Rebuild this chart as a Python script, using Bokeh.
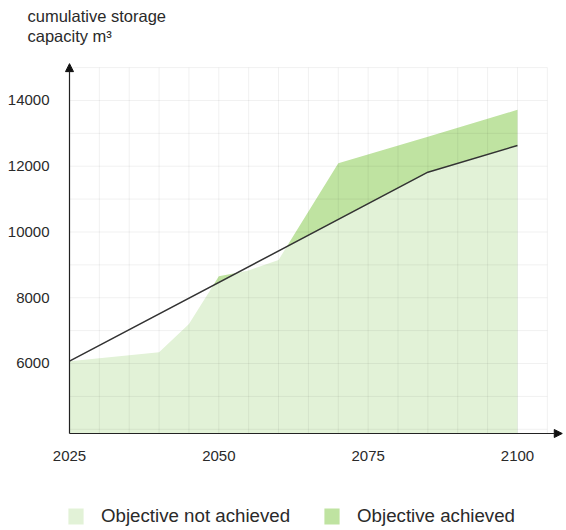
import numpy as np
from bokeh.plotting import figure
from bokeh.models import (Range1d, Arrow, NormalHead, Label, Legend, LegendItem, ColumnDataSource)
from bokeh.embed import file_html
from bokeh.resources import INLINE

# ---- data ----
ACTUAL_YEARS = [2025, 2030, 2035, 2040, 2045, 2050, 2055, 2060, 2070, 2085, 2100]
ACTUAL_CAPACITY = [6070, 6160, 6250, 6340, 7200, 8650, 8830, 9150, 12090, 12900, 13716]
TARGET_YEARS = [2025, 2085, 2100]
TARGET_CAPACITY = [6070, 11818, 12630]
X_TICKS = [2025, 2050, 2075, 2100]
Y_TICKS = [6000, 8000, 10000, 12000, 14000]
LEGEND_LABELS = ["Objective not achieved", "Objective achieved"]
TITLE_LINES = ["cumulative storage", "capacity m³"]

# ---- style / layout ----
LIGHT = "#e2f2d7"
DARK = "#bfe3a1"
TEXT = "#2a2a2a"
FONT = "Liberation Sans"
W, H = 566, 530

# axes origin and plot extents (data units)
X0, XGRID_END, XARROW_END = 2025, 2105, 2107.5
Y0, YGRID_END, YARROW_END = 3871, 15000, 15120
# pixel mapping: origin at (69, 433) px, 5.973 px/year, 0.03288 px/unit
PX0, PY0, SX, SY = 69, 433, 5.973, 0.03288
x_range = Range1d(X0 - PX0 / SX, X0 + (W - PX0) / SX)
y_range = Range1d(Y0 - (H - PY0) / SY, Y0 + PY0 / SY)


def merge(xa, ya, xt, yt):
    xs = sorted(set(xa) | set(xt))
    a = np.interp(xs, xa, ya)
    t = np.interp(xs, xt, yt)
    ox, oa, ot = [], [], []
    for i in range(len(xs)):
        if i > 0:
            d0 = a[i - 1] - t[i - 1]
            d1 = a[i] - t[i]
            if d0 * d1 < 0:
                f = d0 / (d0 - d1)
                xc = xs[i - 1] + f * (xs[i] - xs[i - 1])
                yc = a[i - 1] + f * (a[i] - a[i - 1])
                ox.append(xc); oa.append(yc); ot.append(yc)
        ox.append(xs[i]); oa.append(a[i]); ot.append(t[i])
    return np.array(ox), np.array(oa), np.array(ot)


mx, ma, mt = merge(ACTUAL_YEARS, ACTUAL_CAPACITY, TARGET_YEARS, TARGET_CAPACITY)
src = ColumnDataSource(dict(
    x=mx,
    base=np.full(len(mx), Y0),
    low=np.minimum(ma, mt),
    target=mt,
    high=np.maximum(ma, mt),
))

p = figure(width=W, height=H, output_backend="svg", toolbar_location=None,
           x_range=x_range, y_range=y_range,
           min_border=0, x_axis_type=None, y_axis_type=None)
p.outline_line_color = None
p.background_fill_color = "white"
p.border_fill_color = "white"
p.xgrid.visible = False
p.ygrid.visible = False

light = p.varea(x="x", y1="base", y2="low", source=src, fill_color=LIGHT, level="image")
dark = p.varea(x="x", y1="target", y2="high", source=src, fill_color=DARK, level="image")

# grid lines (every 5 years / every 1000)
gx = np.arange(X0 + 5, XGRID_END + 1, 5)
gy = np.arange(4000, YGRID_END + 1, 1000)
p.segment(x0=gx, y0=np.full(len(gx), Y0), x1=gx, y1=np.full(len(gx), YGRID_END),
          line_color="#000000", line_alpha=0.06, line_width=1, level="underlay")
p.segment(x0=np.full(len(gy), X0), y0=gy, x1=np.full(len(gy), XGRID_END), y1=gy,
          line_color="#000000", line_alpha=0.06, line_width=1, level="underlay")

p.line(TARGET_YEARS, TARGET_CAPACITY, line_color="#333333", line_width=1.5)

# tick labels
p.text(x=np.full(len(Y_TICKS), X0), y=Y_TICKS, text=[f"{v}" for v in Y_TICKS],
       x_offset=-20, text_align="right", text_baseline="middle",
       text_font={"value": FONT}, text_font_size="15px", text_color=TEXT)
p.text(x=X_TICKS, y=np.full(len(X_TICKS), Y0), text=[f"{v}" for v in X_TICKS],
       y_offset=22, text_align="center", text_baseline="middle",
       text_font={"value": FONT}, text_font_size="15px", text_color=TEXT)

# axis arrows
head = dict(size=8, fill_color="#111111", line_color="#111111")
p.add_layout(Arrow(x_start=X0, y_start=Y0, x_end=XARROW_END, y_end=Y0,
                   line_color="#222222", line_width=1.2, end=NormalHead(**head)))
p.add_layout(Arrow(x_start=X0, y_start=Y0, x_end=X0, y_end=YARROW_END,
                   line_color="#222222", line_width=1.2, end=NormalHead(**head)))

# title (two lines)
for i, t in enumerate(TITLE_LINES):
    p.add_layout(Label(x=27, y=H - 15 - 20 * i, x_units="screen", y_units="screen", text=t,
                       text_font=FONT, text_font_size="16.5px", text_color=TEXT,
                       text_baseline="middle", text_align="left"))

legend = Legend(items=[LegendItem(label=LEGEND_LABELS[0], renderers=[light]),
                       LegendItem(label=LEGEND_LABELS[1], renderers=[dark])],
                location=(66, 3), orientation="horizontal",
                padding=0, margin=0, spacing=32, label_standoff=16,
                glyph_width=19, glyph_height=20, label_height=20,
                label_text_font=FONT, label_text_font_size="18.7px", label_text_color=TEXT,
                border_line_color=None, background_fill_alpha=0)
p.add_layout(legend, "center")

open("out.html", "w").write(file_html(p, INLINE))
